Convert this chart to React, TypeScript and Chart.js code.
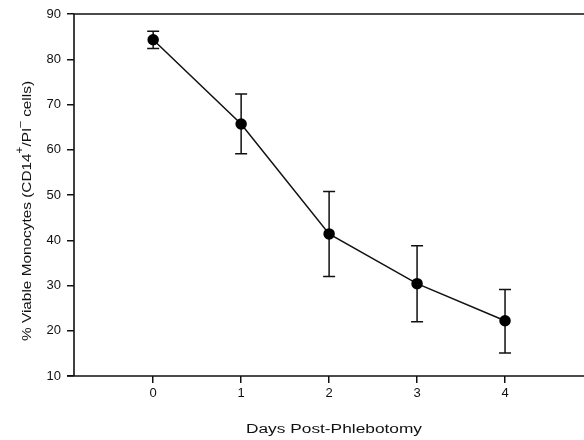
import React, { useEffect, useRef } from "react";
import { Chart, registerables } from "chart.js";
Chart.register(...registerables);

const days = [0, 1, 2, 3, 4];
const viable = [84.3, 65.7, 41.4, 30.4, 22.2];
const errLow = [82.4, 59.1, 32.0, 22.0, 15.1];
const errHigh = [86.2, 72.3, 50.8, 38.8, 29.1];
const xTickValues = [0, 1, 2, 3, 4];
const yTickValues = [10, 20, 30, 40, 50, 60, 70, 80, 90];
const xTitle = "Days Post-Phlebotomy";
// y title pieces: [text, superscript?]
const yTitleParts: [string, boolean][] = [
  ["% Viable Monocytes (CD14", false],
  ["+", true],
  ["/PI", false],
  ["\u2013", true],
  [" cells)", false],
];

const FONT = "'Liberation Sans', Arial, sans-serif";
const INK = "#111";

function drawParts(ctx: CanvasRenderingContext2D, parts: [string, boolean][], size: number, targetLen: number) {
  const mainFont = `${size}px ${FONT}`;
  const supFont = `${Math.round(size * 0.75)}px ${FONT}`;
  let total = 0;
  const widths = parts.map(([t, sup]) => {
    ctx.font = sup ? supFont : mainFont;
    const w = ctx.measureText(t).width;
    total += w;
    return w;
  });
  const sx = targetLen / total;
  ctx.scale(sx, 1);
  let x = -total / 2;
  parts.forEach(([t, sup], i) => {
    ctx.font = sup ? supFont : mainFont;
    ctx.fillText(t, x, sup ? -size * 0.55 : 0);
    x += widths[i];
  });
}

const framePlugin = {
  id: "frame",
  beforeDatasetsDraw(chart: any) {
    const { ctx, chartArea } = chart;
    const { left, right, top, bottom } = chartArea;
    ctx.save();
    ctx.strokeStyle = INK;
    ctx.lineWidth = 1.6;
    ctx.beginPath();
    ctx.moveTo(left - 7, bottom);
    ctx.lineTo(right, bottom);
    ctx.moveTo(left, bottom);
    ctx.lineTo(left, top);
    ctx.lineTo(right, top);
    ctx.stroke();
    const xs = chart.scales.x;
    const ys = chart.scales.y;
    ctx.lineWidth = 1.5;
    ctx.beginPath();
    days.forEach((d, i) => {
      const px = xs.getPixelForValue(d);
      const pl = ys.getPixelForValue(errLow[i]);
      const ph = ys.getPixelForValue(errHigh[i]);
      ctx.moveTo(px, pl);
      ctx.lineTo(px, ph);
      ctx.moveTo(px - 6, pl);
      ctx.lineTo(px + 6, pl);
      ctx.moveTo(px - 6, ph);
      ctx.lineTo(px + 6, ph);
    });
    ctx.stroke();
    ctx.restore();
  },
  afterDraw(chart: any) {
    const { ctx } = chart;
    ctx.save();
    ctx.fillStyle = INK;
    ctx.textBaseline = "alphabetic";
    ctx.textAlign = "left";
    // x title
    ctx.save();
    ctx.translate(334, 433);
    drawParts(ctx, [[xTitle, false]], 12, 176);
    ctx.restore();
    // y title
    ctx.save();
    ctx.translate(30.5, 211);
    ctx.rotate(-Math.PI / 2);
    drawParts(ctx, yTitleParts, 13, 260);
    ctx.restore();
    ctx.restore();
  },
};

export default function App() {
  const ref = useRef<HTMLCanvasElement>(null);
  useEffect(() => {
    if (!ref.current) return;
    const chart = new Chart(ref.current, {
      type: "line",
      data: {
        datasets: [
          {
            data: days.map((d, i) => ({ x: d, y: viable[i] })),
            borderColor: INK,
            borderWidth: 1.5,
            backgroundColor: INK,
            pointRadius: 5,
            pointBackgroundColor: "#000",
            pointBorderColor: "#000",
            tension: 0,
          },
        ],
      },
      options: {
        responsive: false,
        devicePixelRatio: 1,
        animation: false,
        plugins: { legend: { display: false }, tooltip: { enabled: false } },
        layout: { padding: { top: 14, right: 7, left: 0, bottom: 0 } },
        scales: {
          x: {
            type: "linear",
            min: -0.9,
            max: 5.0,
            afterBuildTicks: (s: any) => {
              s.ticks = xTickValues.map((v) => ({ value: v }));
            },
            afterFit: (s: any) => {
              s.height = 64;
            },
            border: { display: false },
            grid: { drawOnChartArea: false, tickLength: 7, color: INK, lineWidth: 1.5 },
            ticks: { color: INK, font: { family: FONT, size: 13 }, padding: 3 },
          },
          y: {
            type: "linear",
            min: 10,
            max: 90,
            afterBuildTicks: (s: any) => {
              s.ticks = yTickValues.map((v) => ({ value: v }));
            },
            afterFit: (s: any) => {
              s.width = 74;
            },
            border: { display: false },
            grid: { drawOnChartArea: false, tickLength: 7, color: INK, lineWidth: 1.5 },
            ticks: { color: INK, font: { family: FONT, size: 13 }, padding: 6 },
          },
        },
      },
      plugins: [framePlugin],
    } as any);
    return () => chart.destroy();
  }, []);
  return (
    <div style={{ position: "fixed", left: 0, top: 0, width: 584, height: 440, overflow: "hidden", background: "#fff" }}>
      <canvas ref={ref} width={600} height={440} style={{ display: "block" }} />
    </div>
  );
}
